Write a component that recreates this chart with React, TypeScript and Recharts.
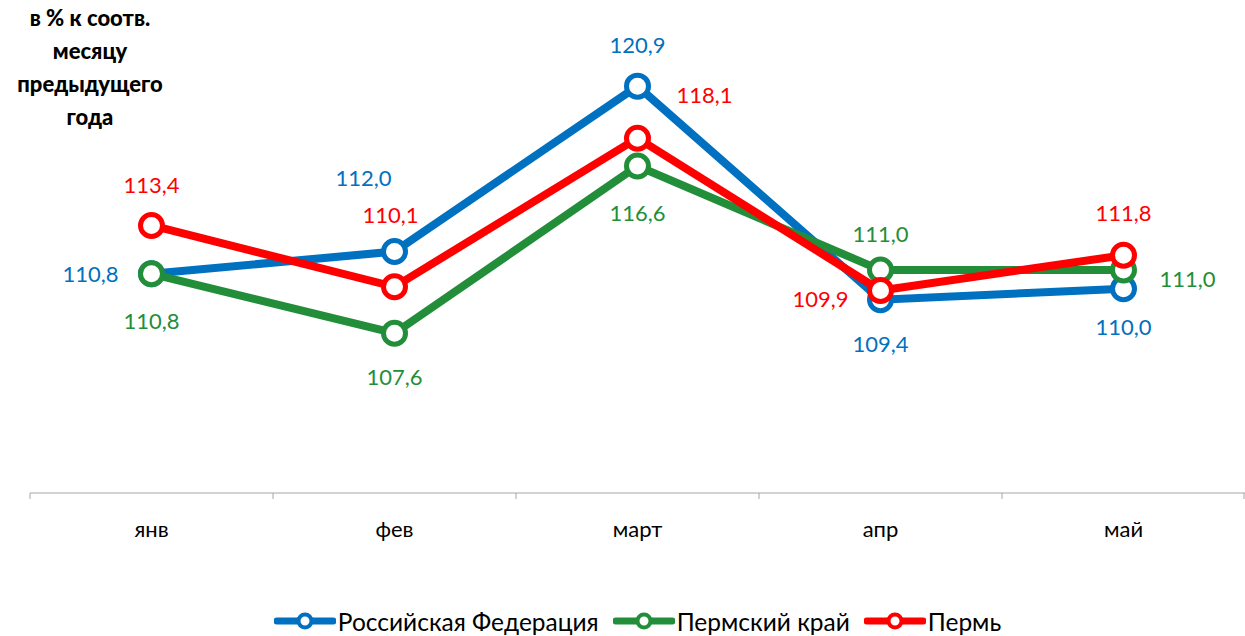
import { LineChart, Line, XAxis, YAxis, Legend, LabelList } from 'recharts'

const months = ['янв', 'фев', 'март', 'апр', 'май']
const russia = [110.8, 112.0, 120.9, 109.4, 110.0]
const permKrai = [110.8, 107.6, 116.6, 111.0, 111.0]
const perm = [113.4, 110.1, 118.1, 109.9, 111.8]

const data = months.map((m, i) => ({
  name: m,
  russia: russia[i],
  permKrai: permKrai[i],
  perm: perm[i],
}))

// label offsets from the point centre, per series
const russiaOffsets = [[-61, 0], [-31, -74], [0, -42], [0, 44], [0, 38]]
const krayOffsets = [[0, 47], [0, 43], [0, 46], [0, -37], [64, 8]]
const permOffsets = [[0, -41], [-4, -72], [67, -44], [-60, 8], [0, -43]]

const W = 1245
const H = 636
const LEFT = 30
const BAND = (W - LEFT) / months.length
const FONT = 'Lato, "Noto Sans", sans-serif'

const series = [
  { key: 'russia', name: 'Российская Федерация', color: '#0070C0', offsets: russiaOffsets },
  { key: 'permKrai', name: 'Пермский край', color: '#228E3A', offsets: krayOffsets },
  { key: 'perm', name: 'Пермь', color: '#FF0000', offsets: permOffsets },
]

const fmt = (v: number) => v.toFixed(1).replace('.', ',')

function makeLabel(color: string, offsets: number[][]) {
  return (props: any) => {
    const { x, y, value, index } = props
    const [dx, dy] = offsets[index]
    return (
      <text
        x={x + dx}
        y={y + dy}
        fill={color}
        fontSize={22}
        fontFamily={FONT}
        textAnchor="middle"
        dominantBaseline="central"
      >
        {fmt(value)}
      </text>
    )
  }
}

function MonthTick(props: any) {
  const { x, y, payload, index } = props
  return (
    <g>
      <line x1={x - BAND / 2} y1={y - 8} x2={x - BAND / 2} y2={y - 2} stroke="#a6a6a6" />
      {index === months.length - 1 && (
        <line x1={x + BAND / 2 - 1} y1={y - 8} x2={x + BAND / 2 - 1} y2={y - 2} stroke="#a6a6a6" />
      )}
      <text x={x} y={y + 27} textAnchor="middle" dominantBaseline="central" fontSize={22} fontFamily={FONT} fill="#000">
        {payload.value}
      </text>
    </g>
  )
}

function LegendContent() {
  return (
    <div style={{ display: 'flex', justifyContent: 'center', alignItems: 'center', gap: 14, fontFamily: FONT, fontSize: 24.5, height: 30 }}>
      {series.map((s) => (
        <div key={s.key} style={{ display: 'flex', alignItems: 'center' }}>
          <svg width={62} height={20}>
            <line x1={3} y1={10} x2={59} y2={10} stroke={s.color} strokeWidth={7} strokeLinecap="round" />
            <circle cx={31} cy={10} r={6.5} fill="#fff" stroke={s.color} strokeWidth={4} />
          </svg>
          <span style={{ marginLeft: 2 }}>{s.name}</span>
        </div>
      ))}
    </div>
  )
}

export default function App() {
  return (
    <div style={{ position: 'absolute', left: 0, top: 0, width: W, height: H, background: '#fff' }}>
      <div
        style={{
          position: 'absolute',
          left: 0,
          top: 1,
          width: 180,
          textAlign: 'center',
          fontFamily: FONT,
          fontWeight: 900,
          fontSize: 22,
          lineHeight: '33px',
          zIndex: 2,
        }}
      >
        в % к соотв.
        <br />
        месяцу
        <br />
        предыдущего
        <br />
        года
      </div>
      <LineChart width={W} height={H} data={data} margin={{ top: 10, right: 0, left: LEFT, bottom: 0 }}>
        <XAxis
          dataKey="name"
          scale="band"
          axisLine={{ stroke: '#a6a6a6' }}
          tickLine={false}
          tick={<MonthTick />}
          height={113}
          interval={0}
        />
        <YAxis hide domain={[99, 125]} />
        <Legend verticalAlign="bottom" content={<LegendContent />} wrapperStyle={{ height: 30 }} />
        {series.map((s) => (
          <Line
            key={s.key}
            dataKey={s.key}
            name={s.name}
            stroke={s.color}
            strokeWidth={8}
            dot={{ r: 11, fill: '#fff', stroke: s.color, strokeWidth: 5 }}
            activeDot={false}
            isAnimationActive={false}
          >
            <LabelList dataKey={s.key} content={makeLabel(s.color, s.offsets)} />
          </Line>
        ))}
      </LineChart>
    </div>
  )
}
